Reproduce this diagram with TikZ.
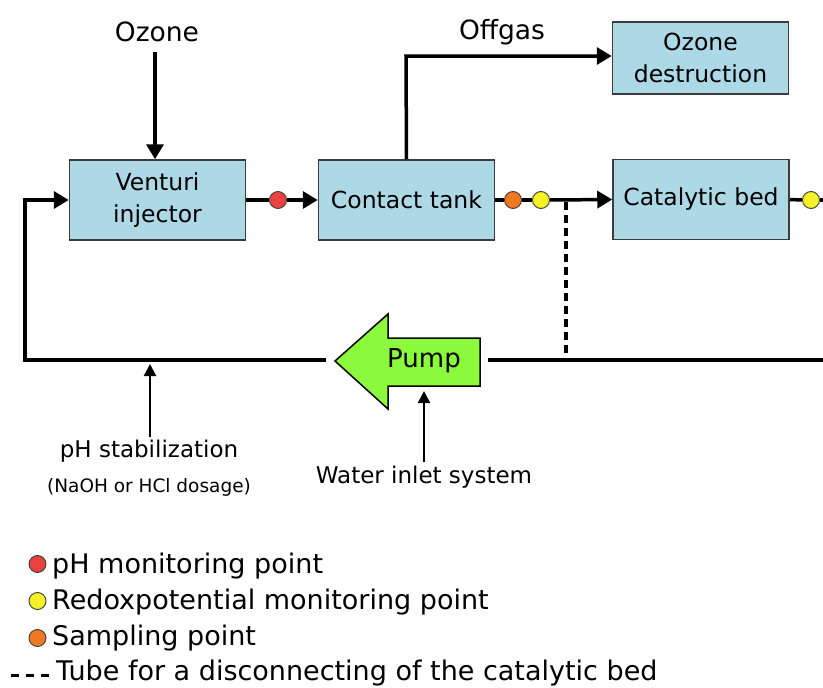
\documentclass[tikz,border=0pt]{standalone}
\usepackage{fontspec}
\setmainfont{DejaVu Sans}
\usetikzlibrary{arrows.meta}
\definecolor{boxfill}{RGB}{173,216,230}
\definecolor{boxline}{RGB}{60,60,60}
\definecolor{pumpfill}{RGB}{140,250,60}
\definecolor{dotred}{RGB}{235,65,65}
\definecolor{dotyellow}{RGB}{245,240,40}
\definecolor{dotorange}{RGB}{240,120,35}
\tikzset{
  unitbox/.style={draw=boxline, line width=1.5pt, fill=boxfill, minimum width=176pt, minimum height=80pt, inner sep=0pt, align=center, font=\fontsize{23.5}{32}\selectfont},
  pipe/.style={line width=3.5pt, draw=black},
  flow/.style={pipe, -{Triangle[length=15pt,width=17pt]}},
  dot/.style={circle, draw=boxline, line width=0.9pt, minimum size=17pt, inner sep=0pt},
  toplabel/.style={font=\fontsize{26.5}{30}\selectfont},
  sidelabel/.style={font=\fontsize{23}{27}\selectfont},
  smalllabel/.style={font=\fontsize{18.5}{22}\selectfont},
  legendtext/.style={anchor=west, inner sep=0pt, font=\fontsize{27}{30}\selectfont},
  tubedash/.style={line width=3.5pt, dash pattern=on 8pt off 5pt}
}
\begin{document}
\begin{tikzpicture}[x=1pt,y=-1pt]
\useasboundingbox[fill=white] (0,0) rectangle (823,688);

% boxes
\node[unitbox] (venturi) at (157.5,200) {Venturi\\injector};
\node[unitbox] (contact) at (406.5,200) {Contact tank};
\node[unitbox] (catalytic) at (701,199.5) {Catalytic bed};
\node[unitbox, minimum height=72pt] (ozdest) at (700.5,58) {Ozone\\destruction};

% top labels
\node[toplabel] (ozone) at (157,32) {Ozone};
\node[toplabel] (offgas) at (502,32) {Offgas};

% Ozone into venturi
\coordinate (ozstart) at (155,52);
\draw[flow] (ozstart) -- (venturi.north -| ozstart);

% venturi -> contact with pH point
\node[dot, fill=dotred] (ph1) at (278,200) {};
\draw[pipe] (venturi.east) -- (ph1.west);
\draw[flow] (ph1.east) -- (contact.west);

% offgas
\coordinate (og1) at (406,56);
\draw[flow] (contact.north) -- (og1) -- (ozdest.west |- og1);

% contact -> catalytic
\node[dot, fill=dotorange] (samp1) at (513,200) {};
\node[dot, fill=dotyellow] (redox1) at (541,200) {};
\draw[pipe] (contact.east) -- (samp1.west);
\draw[pipe] (samp1.east) -- (redox1.west);
\draw[flow] (redox1.east) -- (catalytic.west);

% catalytic out
\node[dot, fill=dotyellow] (redox2) at (811,200) {};
\draw[pipe] (catalytic.east) -- (redox2.west);
\draw[pipe] (redox2.east) -- (823,200);

% bypass tube (dashed)
\coordinate (bp1) at (566,202);
\coordinate (bp2) at (566,360);
\draw[tubedash] (bp1) -- (bp2);

% pump
\draw[draw=black, line width=1.5pt, fill=pumpfill, line join=miter]
  (335,361) -- (388,314) -- (388,338) -- (480,338) -- (480,386) -- (388,386) -- (388,409) -- cycle;
\node[font=\fontsize{26}{30}\selectfont] (pump) at (424,361) {Pump};

% return line
\coordinate (rin) at (823,360);
\coordinate (pr) at (488,360);
\coordinate (pl) at (326,360);
\coordinate (lc) at (25,360);
\coordinate (lt) at (25,200);
\draw[pipe] (rin) -- (pr);
\draw[flow, line join=miter] (pl) -- (lc) -- (lt) -- (venturi.west);

% pH stabilization
\node[sidelabel] (phstab) at (149,451) {pH stabilization};
\node[smalllabel] (naoh) at (149,487) {(NaOH or HCl dosage)};
\coordinate (phs1) at (150,437);
\coordinate (phs2) at (150,364);
\draw[pipe, line width=2.2pt, -{Triangle[length=12pt,width=12pt]}] (phs1) -- (phs2);

% water inlet
\node[sidelabel] (water) at (424,477) {Water inlet system};
\coordinate (wi1) at (424,462);
\coordinate (wi2) at (424,391);
\draw[pipe, line width=2.2pt, -{Triangle[length=12pt,width=12pt]}] (wi1) -- (wi2);

% legend
\node[dot, fill=dotred] (lg1) at (37.5,564) {};
\node[legendtext] (lt1) at (52,566) {pH monitoring point};
\node[dot, fill=dotyellow] (lg2) at (37.5,601) {};
\node[legendtext] (lt2) at (52,602) {Redoxpotential monitoring point};
\node[dot, fill=dotorange] (lg3) at (37.5,638) {};
\node[legendtext] (lt3) at (52,638) {Sampling point};
\coordinate (ld1) at (11,675);
\coordinate (ld2) at (49,675);
\draw[line width=3pt, dash pattern=on 8pt off 7pt] (ld1) -- (ld2);
\node[legendtext] (lt4) at (56,673) {Tube for a disconnecting of the catalytic bed};
\end{tikzpicture}
\end{document}
